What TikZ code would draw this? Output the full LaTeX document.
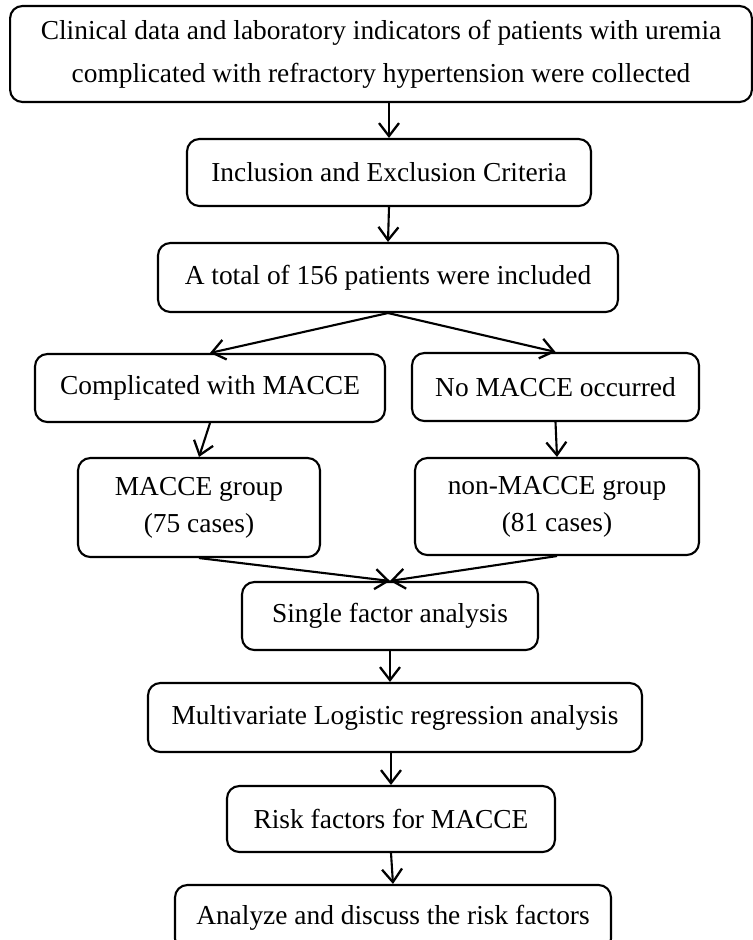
\documentclass[tikz,border=0pt]{standalone}
\usepackage{fontspec}
\setmainfont{Liberation Serif}
\usetikzlibrary{arrows.meta}

\tikzset{
    stage/.style={draw, very thick, rounded corners=7pt, inner sep=0pt, align=center,
        font=\fontsize{15.6}{16}\selectfont},
    flow/.style={very thick, -{Straight Barb[length=2.6mm, width=4mm, line width=1.3pt]}}
}

\begin{document}
\begin{tikzpicture}[x=0.02cm, y=-0.02cm, line width=1.1pt]
            \useasboundingbox (0,0) rectangle (753,940);
            % boxes
            \node[stage, minimum width=14.84cm, minimum height=1.92cm, font=\fontsize{15.6}{24.4}\selectfont] (collect) at (381,54)
                {Clinical data and laboratory indicators of patients with uremia\\complicated with refractory hypertension were collected};
            \node[stage, minimum width=8.08cm, minimum height=1.34cm] (criteria) at (389,172.5) {Inclusion and Exclusion Criteria};
            \node[stage, minimum width=9.2cm, minimum height=1.38cm] (total) at (388,277.5) {A total of 156 patients were included};
            \node[stage, minimum width=7cm, minimum height=1.36cm] (withm) at (210,388) {Complicated with MACCE};
            \node[stage, minimum width=5.74cm, minimum height=1.36cm] (nom) at (555.5,387) {No MACCE occurred};
            \node[stage, minimum width=4.84cm, minimum height=1.98cm, font=\fontsize{15.6}{21}\selectfont] (mgroup) at (199,507.5) {MACCE group\\(75 cases)};
            \node[stage, minimum width=5.68cm, minimum height=1.94cm, font=\fontsize{15.6}{21}\selectfont] (nongroup) at (557,506.5) {non-MACCE group\\(81 cases)};
            \node[stage, minimum width=5.92cm, minimum height=1.36cm] (single) at (390,616) {Single factor analysis};
            \node[stage, minimum width=9.88cm, minimum height=1.38cm] (multi) at (395,717.5) {Multivariate Logistic regression analysis};
            \node[stage, minimum width=6.56cm, minimum height=1.32cm] (risk) at (391,819) {Risk factors for MACCE};
            \node[stage, minimum width=8.72cm, minimum height=1.32cm] (discuss) at (393,918) {Analyze and discuss the risk factors};
            % arrows
            \draw[flow] (collect.south -| criteria.north) -- (criteria.north);
            \draw[flow] (criteria.south) -- (total.north);
            \draw[flow] (total.south) -- (withm.north);
            \draw[flow] (total.south) -- (nom.north);
            \draw[flow] (withm.south) -- (mgroup.north);
            \draw[flow] (nom.south) -- (nongroup.north);
            \draw[flow] (mgroup.south) -- (single.north);
            \draw[flow] (nongroup.south) -- (single.north);
            \draw[flow] (single.south) -- (single.south |- multi.north);
            \draw[flow] (risk.north |- multi.south) -- (risk.north);
            \draw[flow] (risk.south) -- (discuss.north);
        \end{tikzpicture}
\end{document}
